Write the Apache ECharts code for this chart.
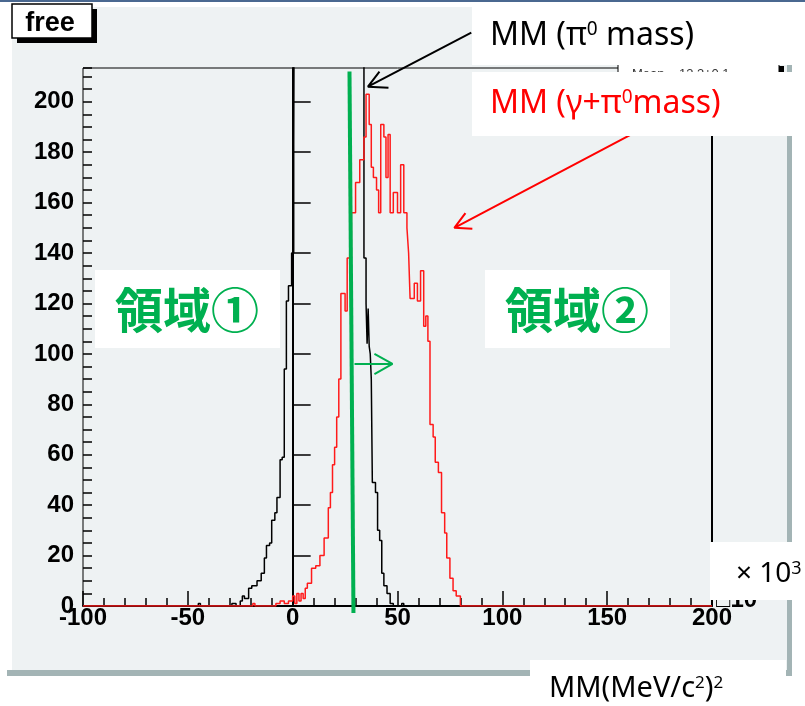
<!DOCTYPE html>
<html lang="ja">
<head>
<meta charset="UTF-8">
<title>MM</title>
<script src="https://cdn.jsdelivr.net/npm/echarts@6/dist/echarts.min.js"></script>
<style>
  html, body { margin: 0; padding: 0; background: #fff; }
  #main { width: 805px; height: 706px; }
</style>
</head>
<body>
<div id="main"></div>
<script>
  // histogram bins: left edge of each bin and its count
  var redEdges = [-100, -19, -18, -8, -6, -4, -2, 0, 1, 2, 3, 4, 5, 6, 7, 9, 11, 13, 15, 17, 18, 19, 20, 21, 22, 23, 25, 26, 28, 30, 32, 34, 35, 36.5, 37.5, 38.5, 40, 41, 42, 43.5, 44.5, 45.5, 46.5, 48, 50, 51.5, 53, 54.5, 55.3, 56, 58, 59.5, 61, 62.5, 63.5, 64.5, 65.5, 67, 68, 69.5, 71, 72.5, 73.5, 75, 76.5, 78, 80, 200];
  var redCounts = [0, 1, 0, 1, 2, 1, 2, 4, 1, 5, 2, 5, 3, 7, 9, 15, 16, 20, 27, 39, 45, 56, 63, 75, 90, 124, 117, 138, 156, 168, 177, 186, 203, 191, 174, 170, 165, 156, 191, 186, 170, 187, 156, 164, 156, 175, 156, 150, 140, 122, 128, 121, 133, 111, 115, 105, 72, 67, 57, 53, 37, 29, 19, 11, 6, 4, 0, 0];

  // black peak goes off scale between ~1 and ~34 (those counts are guesses, clipped anyway)
  var blackEdges = [-100, -45, -44, -29, -27, -25, -24, -23, -21, -19.5, -17, -15, -13.5, -12.5, -11, -10, -8.5, -7.5, -6, -5, -4, -3, -2, -0.5, 0.5, 1.4, 4, 8, 12, 16, 20, 24, 28, 31, 34, 35, 35.5, 36, 36.5, 37, 37.5, 38, 39.5, 40.5, 41.5, 42.5, 43.5, 45, 46.5, 48, 52, 53, 200];
  var blackCounts = [0, 1, 0, 1, 0, 2, 4, 3, 7, 8, 10, 13, 19, 24, 25, 34, 37, 43, 58, 59, 94, 121, 127, 140, 183, 420, 900, 1500, 1900, 1700, 1200, 800, 450, 260, 138, 120, 104, 118, 103, 100, 90, 49, 45, 30, 26, 13, 8, 5, 1, 0, 1, 0, 0];

  // annotations in data coordinates
  var cutLine = [[27.1, 212], [29.0, -2.8]];
  var greenArrow = [[39, 100], [47.6, 96], [39, 92], [47.6, 96], [29.5, 96]];
  var blackArrow = [[41.4, 212], [35.9, 206], [45.7, 205.6], [35.9, 206], [85.2, 227.4]];
  var redArrow = [[82.4, 155.8], [77.1, 150], [85.7, 149.6], [77.1, 150], [162.9, 187.7]];

  function pairs(xs, ys) {
    var out = [];
    for (var i = 0; i < xs.length; i++) {
      out.push([xs[i], ys[i]]);
    }
    return out;
  }

  var lblFamily = '"Liberation Sans", Arial, sans-serif';
  var boxFamily = '"Noto Sans", sans-serif';
  var cjkFont = '"Noto Sans CJK JP", sans-serif';

  // rich text styles for the label boxes (main text + superscript)
  function richStyle(color, size, supSize) {
    return {
      a: { fontSize: size, fontFamily: boxFamily, fill: color, lineHeight: size },
      s: { fontSize: supSize, fontFamily: boxFamily, fill: color, verticalAlign: 'top', lineHeight: supSize }
    };
  }

  function annot(data, color, width) {
    return {
      type: 'line',
      data: data,
      showSymbol: false,
      symbol: 'none',
      clip: false,
      silent: true,
      z: 5,
      lineStyle: { color: color, width: width }
    };
  }

  var option = {
    animation: false,
    backgroundColor: '#ffffff',
    grid: {
      left: 83, right: 93, top: 68, bottom: 100,
      show: true,
      borderColor: '#000',
      borderWidth: 1
    },
    xAxis: {
      type: 'value',
      min: -100,
      max: 200,
      interval: 50,
      axisLine: { lineStyle: { color: '#000', width: 2 } },
      axisTick: { inside: true, length: 15, lineStyle: { color: '#000', width: 1.5 } },
      minorTick: { show: true, splitNumber: 5, length: 8, lineStyle: { color: '#000', width: 1.5 } },
      splitLine: { show: false },
      axisLabel: { color: '#000', fontSize: 24, fontWeight: 'bold', fontFamily: lblFamily, margin: 0 }
    },
    yAxis: [{
      type: 'value',
      position: 'left',
      min: 0,
      max: 213.4,
      interval: 20,
      axisLine: { show: true, lineStyle: { color: '#000', width: 2 } },
      axisTick: { inside: true, length: 18, lineStyle: { color: '#000', width: 1.5 } },
      splitLine: { show: false },
      axisLabel: { color: '#000', fontSize: 24, fontWeight: 'bold', fontFamily: lblFamily, margin: 9, showMaxLabel: false }
    }, {
      // minor ticks every 5
      type: 'value',
      position: 'left',
      min: 0,
      max: 213.4,
      interval: 5,
      axisLine: { show: false },
      axisTick: { inside: true, length: 9, lineStyle: { color: '#000', width: 1.5 } },
      splitLine: { show: false },
      axisLabel: { show: false }
    }, {
      type: 'value',
      position: 'right',
      min: 0,
      max: 213.4,
      axisLine: { show: true, lineStyle: { color: '#000', width: 2 } },
      axisTick: { show: false },
      splitLine: { show: false },
      axisLabel: { show: false }
    }],
    series: [{
      name: 'MM (pi0 mass)',
      type: 'line',
      step: 'end',
      data: pairs(blackEdges, blackCounts),
      showSymbol: false,
      symbol: 'none',
      clip: true,
      z: 3,
      lineStyle: { color: '#000', width: 1.5 }
    }, {
      name: 'MM (gamma+pi0 mass)',
      type: 'line',
      step: 'end',
      data: pairs(redEdges, redCounts),
      showSymbol: false,
      symbol: 'none',
      clip: true,
      z: 4,
      lineStyle: { color: '#ff1a1a', width: 1.5 }
    },
      annot(cutLine, '#00b050', 4),
      annot(greenArrow, '#00b050', 2),
      annot(blackArrow, '#000', 2),
      annot(redArrow, '#ff0000', 2)
    ],
    graphic: [
      // canvas frame
      { type: 'rect', z: -10, shape: { x: 0, y: 0, width: 805, height: 2 }, style: { fill: '#4a6890' } },
      { type: 'rect', z: -10, shape: { x: 12, y: 7, width: 775, height: 663 }, style: { fill: '#eef2f3' } },
      { type: 'rect', z: -10, shape: { x: 787, y: 12, width: 5, height: 664 }, style: { fill: '#a3b4b5' } },
      { type: 'rect', z: -10, shape: { x: 7, y: 670, width: 785, height: 6 }, style: { fill: '#a3b4b5' } },
      // "free" title box
      { type: 'rect', z: 50, shape: { x: 17, y: 9, width: 80, height: 34 }, style: { fill: '#000' } },
      { type: 'rect', z: 51, shape: { x: 12, y: 4, width: 80, height: 34 }, style: { fill: '#fff', stroke: '#000', lineWidth: 1.5 } },
      { type: 'text', z: 52, x: 50, y: 24, style: { text: 'free', fill: '#000', font: 'bold 27px ' + lblFamily, textAlign: 'center', textVerticalAlign: 'middle' } },
      // stats box peeking out
      { type: 'rect', z: 60, shape: { x: 779, y: 66, width: 5, height: 60 }, style: { fill: '#000' } },
      { type: 'rect', z: 61, shape: { x: 618, y: 63, width: 161, height: 60 }, style: { fill: '#fff', stroke: '#000', lineWidth: 1 } },
      { type: 'text', z: 62, x: 632, y: 74, style: { text: 'Mean    13.3\u00b10.1', fill: '#333', font: '13px ' + lblFamily, textAlign: 'left', textVerticalAlign: 'middle' } },
      // legend-like labels
      { type: 'rect', z: 70, shape: { x: 472, y: 2, width: 333, height: 63 }, style: { fill: '#fff' } },
      { type: 'text', z: 71, x: 490, y: 36, style: { text: '{a|MM (\u03c0}{s|0}{a| mass)}', rich: richStyle('#000', 32, 19), textAlign: 'left', textVerticalAlign: 'middle' } },
      { type: 'rect', z: 70, shape: { x: 472, y: 72, width: 320, height: 64 }, style: { fill: '#fff' } },
      { type: 'text', z: 71, x: 490, y: 104, style: { text: '{a|MM (\u03b3+\u03c0}{s|0}{a|mass)}', rich: richStyle('#ff0000', 32, 19), textAlign: 'left', textVerticalAlign: 'middle' } },
      // region labels
      { type: 'rect', z: 70, shape: { x: 95, y: 270, width: 185, height: 78 }, style: { fill: '#fff' } },
      { type: 'text', z: 71, x: 187, y: 310, style: { text: '領域①', fill: '#00b050', font: 'bold 48px ' + cjkFont, textAlign: 'center', textVerticalAlign: 'middle' } },
      { type: 'rect', z: 70, shape: { x: 485, y: 270, width: 185, height: 78 }, style: { fill: '#fff' } },
      { type: 'text', z: 71, x: 577, y: 310, style: { text: '領域②', fill: '#00b050', font: 'bold 48px ' + cjkFont, textAlign: 'center', textVerticalAlign: 'middle' } },
      // exponent label (mostly hidden behind the white box)
      { type: 'text', z: 65, x: 716, y: 600, style: { text: '\u25a110', fill: '#000', font: 'bold 24px ' + lblFamily, textAlign: 'left', textVerticalAlign: 'middle' } },
      { type: 'rect', z: 70, shape: { x: 710, y: 542, width: 95, height: 58 }, style: { fill: '#fff' } },
      { type: 'text', z: 71, x: 736, y: 574, style: { text: '{a|\u00d7 10}{s|3}', rich: richStyle('#000', 28, 18), textAlign: 'left', textVerticalAlign: 'middle' } },
      // axis title
      { type: 'rect', z: 70, shape: { x: 530, y: 660, width: 256, height: 46 }, style: { fill: '#fff' } },
      { type: 'text', z: 71, x: 549, y: 689, style: { text: '{a|MM(MeV/c}{s|2}{a|)}{s|2}', rich: richStyle('#000', 29, 17), textAlign: 'left', textVerticalAlign: 'middle' } }
    ]
  };

  var myChart = echarts.init(document.getElementById('main'));
  myChart.setOption(option);
</script>
</body>
</html>
